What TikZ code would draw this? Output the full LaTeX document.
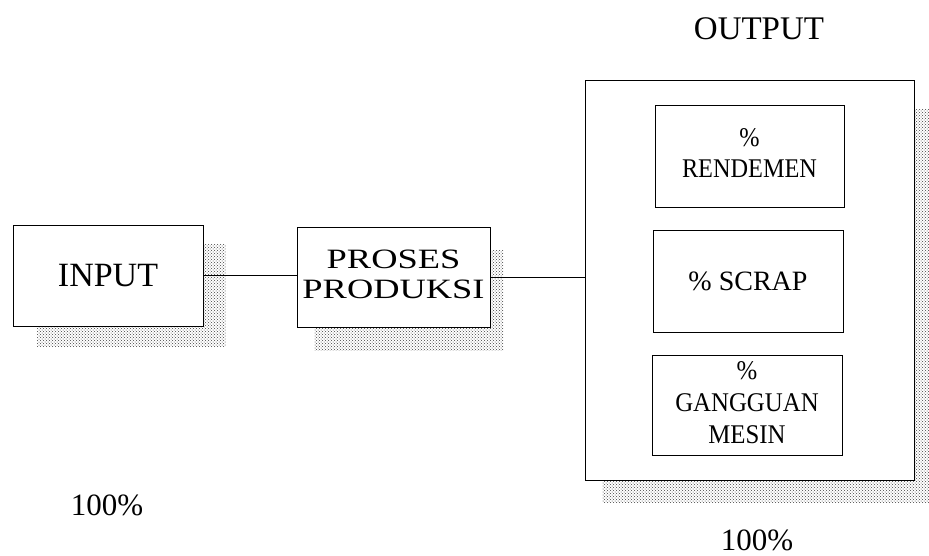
\documentclass[tikz,border=0pt]{standalone}
\usepackage{fontspec}
\setmainfont{Liberation Serif}
\usetikzlibrary{patterns,backgrounds}
\begin{document}
\begin{tikzpicture}[x=1pt,y=-1pt,
  box/.style={draw=black, line width=1pt, fill=white, rectangle, inner sep=0pt, align=center},
  shadowfill/.style={pattern=crosshatch dots, pattern color=black!75},
  link/.style={draw=black, line width=1pt},
  lbl/.style={inner sep=0pt, align=center}]
\useasboundingbox (0,0) rectangle (929,555);
\node[box, minimum width=190pt, minimum height=101pt, font=\fontsize{34}{40}\selectfont] (input) at (108,275.5) {INPUT};
\node[box, minimum width=193pt, minimum height=100pt] (proses) at (393.5,277)
  {\fontsize{28}{30}\selectfont\scalebox{1.3}[1]{\begin{tabular}{@{}c@{}}PROSES\\PRODUKSI\end{tabular}}};
\node[box, minimum width=329pt, minimum height=400pt] (outbox) at (749.5,280) {};
\node[box, minimum width=189pt, minimum height=102pt] (rend) at (749.5,156)
  {\fontsize{27}{31}\selectfont\scalebox{0.9}[1]{\begin{tabular}{@{}c@{}}\%\\RENDEMEN\end{tabular}}};
\node[box, minimum width=190pt, minimum height=102pt, font=\fontsize{28}{32}\selectfont] (scrap) at (748,281) {\% SCRAP};
\node[box, minimum width=190pt, minimum height=100pt] (gang) at (747,405)
  {\fontsize{27}{32}\selectfont\scalebox{0.92}[1]{\begin{tabular}{@{}c@{}}\%\\GANGGUAN\\MESIN\end{tabular}}};
\node[lbl, font=\fontsize{33}{40}\selectfont] (outlbl) at (759,29) {OUTPUT};
\node[lbl, font=\fontsize{31}{36}\selectfont] (inpct) at (107,505) {100\%};
\node[lbl, font=\fontsize{31}{36}\selectfont] (outpct) at (757,540) {100\%};
\begin{scope}[on background layer]
  \fill[shadowfill] ([shift={(24,20)}]input.north west) rectangle ([shift={(22,20)}]input.south east);
  \fill[shadowfill] ([shift={(18,24)}]proses.north west) rectangle ([shift={(13,23)}]proses.south east);
  \fill[shadowfill] ([shift={(18,30)}]outbox.north west) rectangle ([shift={(15,22)}]outbox.south east);
\end{scope}
\draw[link] (input.east |- 0,275) -- (proses.west |- 0,275);
\draw[link] (proses.east |- 0,277) -- (outbox.west |- 0,277);
\end{tikzpicture}
\end{document}
